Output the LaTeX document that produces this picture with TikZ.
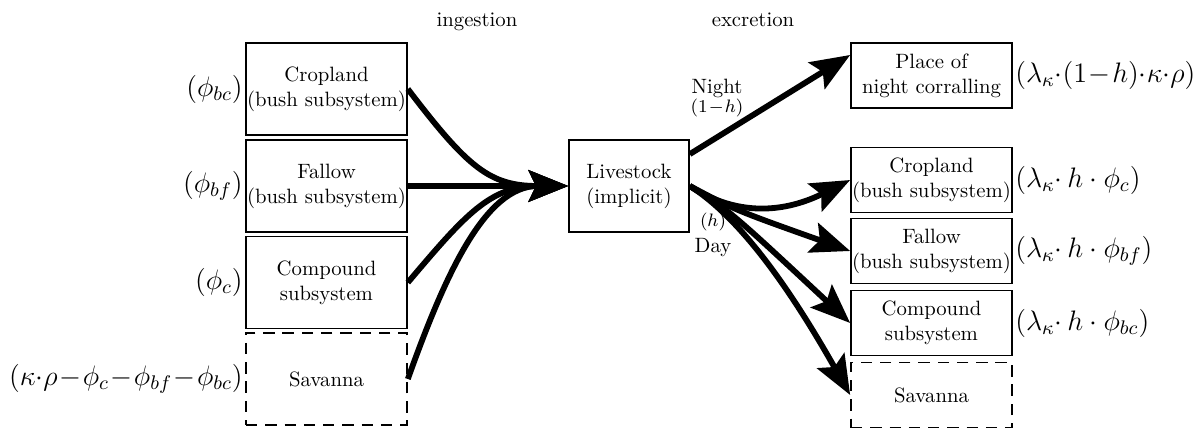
\RequirePackage{fix-cm}
\documentclass[tikz,border=0pt]{standalone}
\usetikzlibrary{arrows.meta}
\begin{document}
\begin{tikzpicture}[x=0.4825pt,y=-0.4825pt,
 box/.style={draw, line width=0.8pt, align=center, minimum width=77.7pt, inner sep=0.5pt},
 tall/.style={box, minimum height=44.4pt},
 short/.style={box, minimum height=31.4pt},
 dbox/.style={dash pattern=on 5.5pt off 3.8pt},
 flow/.style={line width=2.8pt, -{Stealth[length=19pt,width=15pt,inset=3.5pt]}},
 lbl/.style={font=\fontsize{13.6}{16}\selectfont, inner sep=1pt},
 small/.style={font=\fontsize{8.7}{10}\selectfont, inner sep=0pt, anchor=base},
 txt/.style={inner sep=0pt, anchor=base}]
\useasboundingbox (0,0) rectangle (1203,428);

% headings
\node[txt] (ing) at (477,26) {ingestion};
\node[txt] (exc) at (753,26) {excretion};

% left boxes
\node[tall] (cr1) at (326.5,89) {Cropland\\(bush subsystem)};
\node[tall] (fa1) at (326.5,186) {Fallow\\(bush subsystem)};
\node[tall] (co1) at (326.5,282.5) {Compound\\subsystem};
\node[tall,dbox] (sa1) at (326.5,379) {Savanna};

% livestock
\node[box, minimum width=57.9pt, minimum height=44.4pt] (live) at (629,186) {Livestock\\(implicit)};

% right boxes
\node[short] (pl2) at (931.5,75.5) {Place of\\night corralling};
\node[short] (cr2) at (931.5,180) {Cropland\\(bush subsystem)};
\node[short] (fa2) at (931.5,251) {Fallow\\(bush subsystem)};
\node[short] (co2) at (931.5,323) {Compound\\subsystem};
\node[short,dbox] (sa2) at (931.5,395) {Savanna};

% left labels
\node[lbl, anchor=east] (l1) at (cr1.west) {$(\phi_{bc})$};
\node[lbl, anchor=east] (l2) at (fa1.west) {$(\phi_{bf})$};
\node[lbl, anchor=east] (l3) at (co1.west) {$(\phi_{c})$};
\node[lbl, anchor=east] (l4) at (sa1.west) {$(\kappa{\cdot}\rho\mskip1mu{-}\mskip1mu\phi_c\mskip1mu{-}\mskip1mu\phi_{bf}\mskip1mu{-}\mskip1mu\phi_{bc})$};

% right labels
\node[lbl, anchor=west] (r1) at (pl2.east) {$(\lambda_\kappa{\cdot}(1\mskip1mu{-}\mskip1mu h){\cdot}\kappa{\cdot}\rho)$};
\node[lbl, anchor=west] (r2) at (cr2.east) {$(\lambda_\kappa{\cdot}\,h\cdot\phi_c)$};
\node[lbl, anchor=west] (r3) at (fa2.east) {$(\lambda_\kappa{\cdot}\,h\cdot\phi_{bf})$};
\node[lbl, anchor=west] (r4) at (co2.east) {$(\lambda_\kappa{\cdot}\,h\cdot\phi_{bc})$};

% ingestion flows
\draw[flow] (cr1.east) .. controls (468,168) and (490,186) .. (live.west);
\draw[flow] (fa1.east) -- (live.west);
\draw[flow] (co1.east) .. controls (465,215) and (490,186) .. (live.west);
\draw[flow] (sa1.east) .. controls (445,275) and (485,186) .. (live.west);

% excretion flows
\draw[flow] ([yshift=15.4pt]live.east) -- ([yshift=9.9pt]pl2.west);
\draw[flow] (live.east) .. controls (748,224) and (800,205) .. (cr2.west);
\draw[flow] (live.east) .. controls (735,210) .. (fa2.west);
\draw[flow] (live.east) .. controls (730,211) .. (co2.west);
\draw[flow] (live.east) .. controls (728,210) and (775,262) .. (sa2.west);

% flow labels
\node[txt] (night) at (717,93) {Night};
\node[small] (nh) at (717,112) {$(1\mskip1mu{-}\mskip1mu h)$};
\node[small] (dh) at (713,226) {$(h)$};
\node[txt] (day) at (713,252) {Day};
\end{tikzpicture}
\end{document}
